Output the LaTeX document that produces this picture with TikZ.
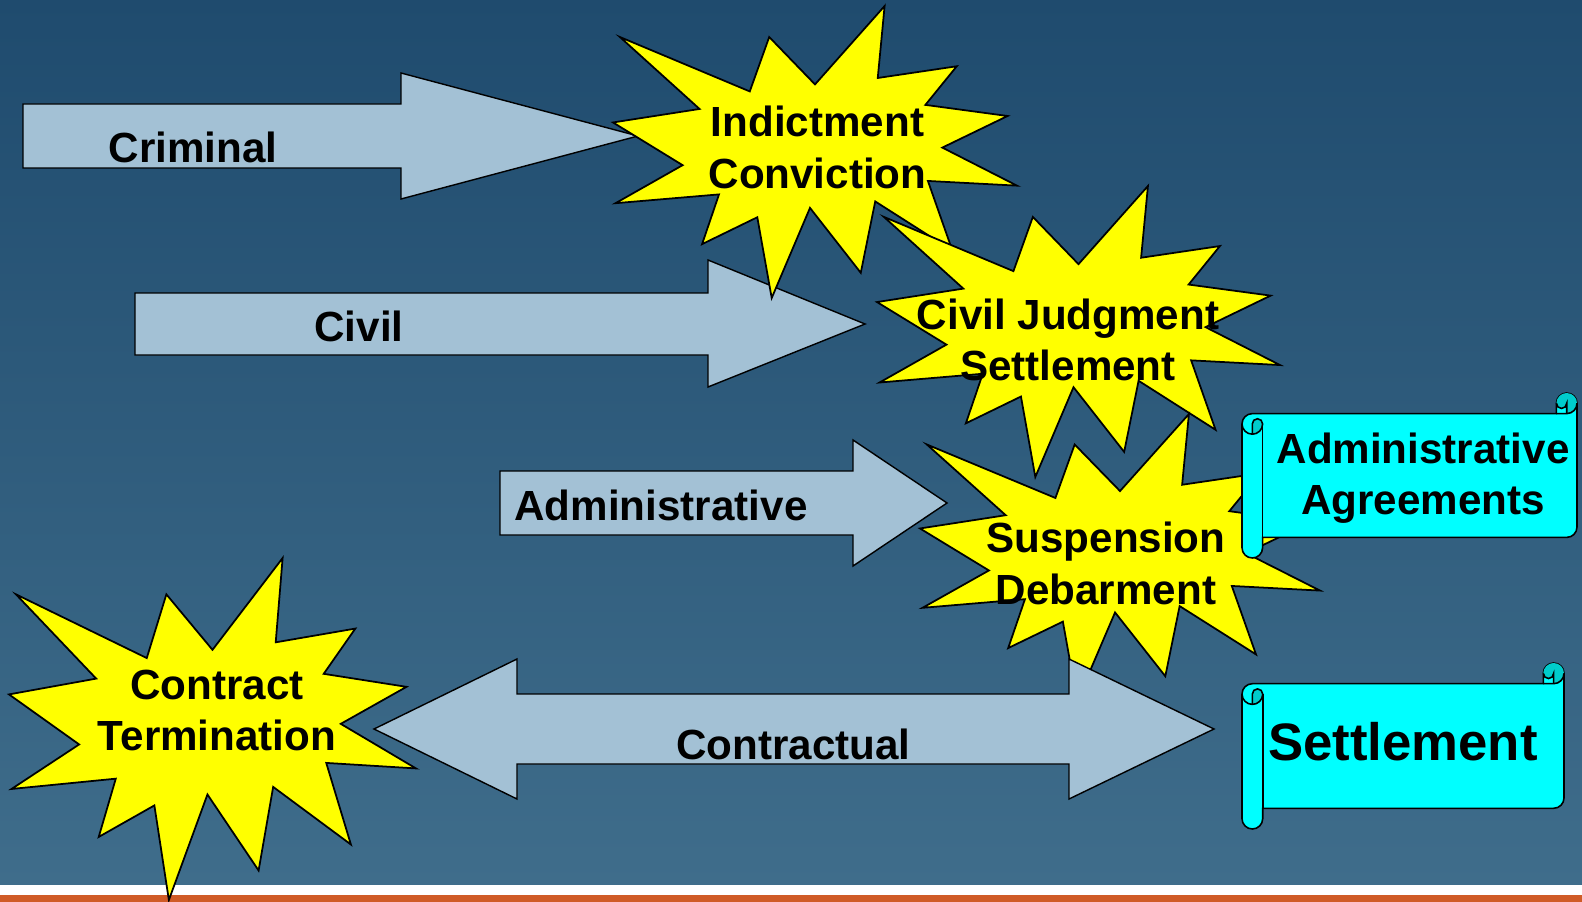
\documentclass[tikz,border=0pt]{standalone}
\usepackage{fontspec}
\setmainfont{Liberation Sans}
\usepackage{tikz}
\usepackage{xcolor}

\definecolor{bgtop}{HTML}{1F4B6E}
\definecolor{bgbottom}{HTML}{3F6D8B}
\definecolor{bandorange}{HTML}{D05B27}
\definecolor{arrowblue}{HTML}{A3C1D5}
\definecolor{burstyellow}{HTML}{FFFF00}
\definecolor{scrollcyan}{HTML}{00FFFF}
\definecolor{scrolldark}{HTML}{00CCCC}

\tikzstyle{blockarrow} = [draw=black, line width=0.8pt, fill=arrowblue]
\tikzstyle{burst} = [draw=black, line width=1pt, fill=burstyellow]
\tikzstyle{scrollbody} = [draw=black, line width=0.9pt, fill=scrollcyan]
\tikzstyle{scrollline} = [draw=black, line width=0.9pt]
\tikzstyle{arrowtext} = [font=\fontsize{24}{29}\selectfont\bfseries, inner sep=0pt]
\tikzstyle{bursttext} = [font=\fontsize{24}{29.2}\selectfont\bfseries, align=center, inner sep=0pt]
\tikzstyle{bigtext} = [font=\fontsize{30}{36}\selectfont\bfseries, inner sep=0pt]

% explosion: name, left, top, width, height
\newcommand{\burstshape}[5]{%
  \begin{scope}[shift={(#2,#3)}, xscale=#4/216, yscale=#5/216]
    \draw[burst] (108,58) -- (145.22,0) -- (141.55,53.25) -- (183.80,44.57)
      -- (167.02,73.15) -- (210.97,81.37) -- (176.07,104.75) -- (216,132.90)
      -- (168.37,129.42) -- (181.45,180.95) -- (140.20,144.57) -- (132.47,197.37)
      -- (105.32,149.35) -- (84.85,216) -- (77.15,156.27) -- (47.62,176.17)
      -- (56.67,139.37) -- (1.35,145.87) -- (37.22,117.75) -- (0,86.15)
      -- (46.27,76.17) -- (3.70,22.95) -- (73.12,63.20) -- (83.52,22.95) -- cycle;
    \coordinate (#1) at (108,108);
  \end{scope}}

% horizontal scroll: left, top, right, bottom, curl size
\newcommand{\hscroll}[5]{%
  \pgfmathsetmacro{\scrc}{#5}%
  \pgfmathsetmacro{\scrh}{#5/2}%
  \pgfmathsetmacro{\scrq}{#5/4}%
  \filldraw[scrollbody] (#1,#2+\scrc+\scrh)
    arc[start angle=180, delta angle=90, radius=\scrh]
    -- (#3-\scrc,#2+\scrc) -- (#3-\scrc,#2+\scrh)
    arc[start angle=180, delta angle=180, radius=\scrh]
    -- (#3,#4-\scrc-\scrh)
    arc[start angle=0, delta angle=90, radius=\scrh]
    -- (#1+\scrc,#4-\scrc) -- (#1+\scrc,#4-\scrh)
    arc[start angle=0, delta angle=180, radius=\scrh] -- cycle;
  \fill[scrolldark] (#1+\scrh,#2+2*\scrc)
    arc[start angle=90, delta angle=-90, radius=\scrh]
    arc[start angle=0, delta angle=-180, radius=\scrq] -- cycle;
  \fill[scrolldark] (#3-\scrh,#2+\scrc)
    arc[start angle=90, delta angle=-270, radius=\scrh]
    arc[start angle=180, delta angle=-180, radius=\scrq] -- cycle;
  \draw[scrollline] (#3-\scrc,#2+\scrc) -- (#3-\scrh,#2+\scrc)
    arc[start angle=90, delta angle=-90, radius=\scrh];
  \draw[scrollline] (#3-\scrh,#2+\scrc) -- (#3-\scrh,#2+\scrh)
    arc[start angle=0, delta angle=180, radius=\scrq];
  \draw[scrollline] (#1+\scrh,#2+2*\scrc) -- (#1+\scrh,#2+\scrc+\scrh)
    arc[start angle=180, delta angle=180, radius=\scrq]
    arc[start angle=0, delta angle=180, radius=\scrh];
  \draw[scrollline] (#1+\scrc,#2+\scrc+\scrh) -- (#1+\scrc,#4-\scrc);
}

\begin{document}
\begin{tikzpicture}[x=0.02cm, y=-0.02cm]
      \useasboundingbox (0,0) rectangle (1582,902);
      % background and bottom band
      \shade[top color=bgtop, bottom color=bgbottom] (0,0) rectangle (1582,885);
      \fill[white] (0,885) rectangle (1582,895);
      \fill[bandorange] (0,895) rectangle (1582,902);

      % block arrows
      \draw[blockarrow] (23,104) -- (401,104) -- (401,73) -- (638,136) -- (401,199) -- (401,168) -- (23,168) -- cycle;
      \node (criminal) [arrowtext] at (193,147) {Criminal};
      \draw[blockarrow] (135,293) -- (708,293) -- (708,260) -- (865,324) -- (708,387) -- (708,355) -- (135,355) -- cycle;
      \node (civil) [arrowtext] at (359,326) {Civil};
      \draw[blockarrow] (500,471) -- (853,471) -- (853,440) -- (947,503) -- (853,566) -- (853,535) -- (500,535) -- cycle;
      \node (administrative) [arrowtext] at (661,505) {Administrative};

      % outcomes
      \burstshape{indictburst}{613}{6}{404}{292}
      \node (indictment) [bursttext] at (817.5,147.5) {Indictment\\Conviction};
      \burstshape{civilburst}{877}{186}{403}{291}
      \node (judgment) [bursttext] at (1068,340) {Civil Judgment\\Settlement};
      \burstshape{suspburst}{920}{414}{400}{287}
      \node (suspension) [bursttext] at (1106,563.5) {Suspension\\Debarment};
      \burstshape{termburst}{9}{558}{407}{342}
      \node (termination) [bursttext] at (217,710.5) {Contract\\Termination};

      \draw[blockarrow] (374,729) -- (517,659) -- (517,694) -- (1069,694) -- (1069,659) -- (1214,729)
        -- (1069,799) -- (1069,764) -- (517,764) -- (517,799) -- cycle;
      \node (contractual) [arrowtext] at (793.5,744.5) {Contractual};

      \hscroll{1242}{393}{1577}{558}{20.6}
      \node (agreements) [bursttext] at (1423,478) {Administrative\\Agreements};
      \hscroll{1242}{663}{1564}{829}{20.7}
      \node (settlement) [bigtext] at (1403,742) {Settlement};
    \end{tikzpicture}
\end{document}
